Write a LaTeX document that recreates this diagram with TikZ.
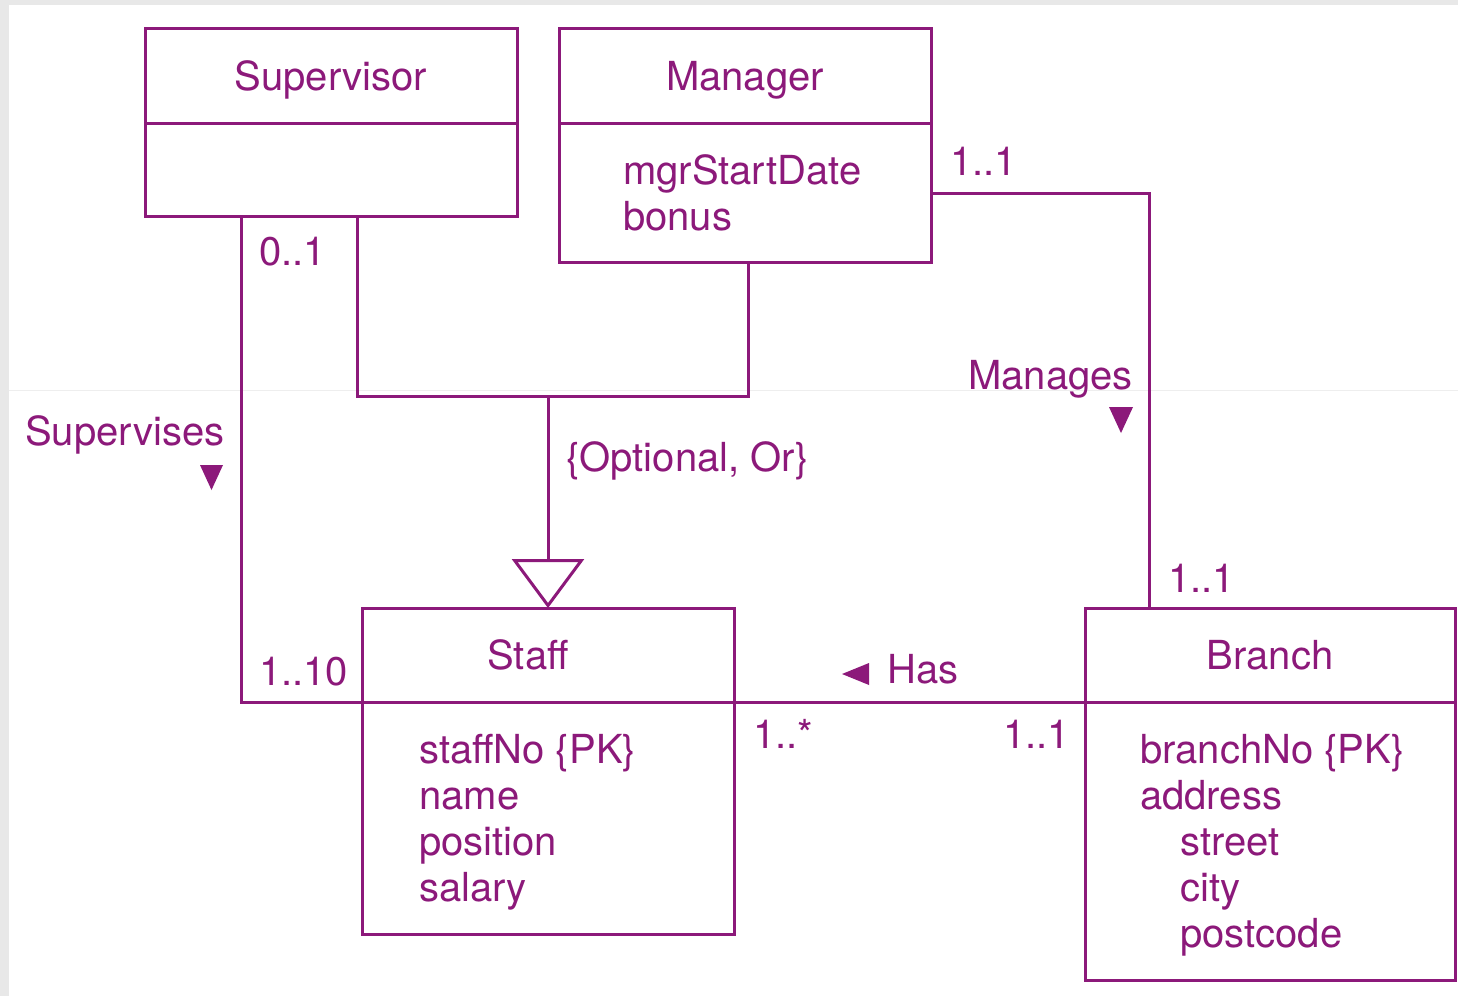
\documentclass[tikz,border=0pt]{standalone}
\usepackage{fontspec}
\setmainfont{TeX Gyre Heros}
\usetikzlibrary{arrows.meta}

\definecolor{umlpurple}{RGB}{140,25,122}
\definecolor{framegray}{RGB}{232,232,232}
\definecolor{rulegray}{RGB}{238,238,238}

\tikzset{
  umltext/.style={text=umlpurple, font=\fontsize{40}{46}\selectfont},
  uml/.style={draw=umlpurple, line width=3pt, inner sep=0pt, outer sep=0pt, anchor=north west},
  head/.style={uml, umltext, text height=29pt, text depth=0pt, align=center},
  title/.style={umltext, inner sep=0pt, text height=29pt, text depth=0pt},
  attr/.style={umltext, inner sep=0pt, anchor=base west},
  lbl/.style={umltext, inner sep=0pt, anchor=base west},
  conn/.style={draw=umlpurple, line width=3pt},
  dirmark/.style={fill=umlpurple},
}

\begin{document}
\begin{tikzpicture}[x=1pt,y=-1pt]
\useasboundingbox (0,0) rectangle (1458,996);
\fill[framegray] (0,0) rectangle (1458,996);
\fill[white] (9,5) rectangle (1458,996);
\draw[rulegray, line width=1pt] (9,390) -- (1458,390);

% classes: name compartment + attribute compartment
\node[head, minimum width=372pt, minimum height=95pt] (sup-head) at (145,28) {Supervisor};
\node[uml, minimum width=372pt, minimum height=93pt] (sup-body) at (sup-head.south west) {};

\node[head, minimum width=372pt, minimum height=95pt] (mgr-head) at (559,28) {Manager};
\node[uml, minimum width=372pt, minimum height=139pt] (mgr-body) at (mgr-head.south west) {};

\node[head, minimum width=372pt, minimum height=94pt] (staff-head) at (362,608) {};
\node[title] (staff-title) at ([xshift=-20pt]staff-head.center) {Staff};
\node[uml, minimum width=372pt, minimum height=232pt] (staff-body) at (staff-head.south west) {};

\node[head, minimum width=370pt, minimum height=94pt] (branch-head) at (1085,608) {Branch};
\node[uml, minimum width=370pt, minimum height=278pt] (branch-body) at (branch-head.south west) {};

% attributes
\node[attr] (mgr-a1) at (623,184) {mgrStartDate};
\node[attr] (mgr-a2) at (623,230) {bonus};

\node[attr] (staff-a1) at (419,763) {staffNo \{PK\}};
\node[attr] (staff-a2) at (419,809) {name};
\node[attr] (staff-a3) at (419,855) {position};
\node[attr] (staff-a4) at (419,901) {salary};

\node[attr] (branch-a1) at (1140,763) {branchNo \{PK\}};
\node[attr] (branch-a2) at (1140,809) {address};
\node[attr] (branch-a3) at (1180,855) {street};
\node[attr] (branch-a4) at (1180,901) {city};
\node[attr] (branch-a5) at (1180,947) {postcode};

% associations
\draw[conn] ([xshift=96pt]sup-body.south west) |- (staff-head.south west);
\draw[conn] ([yshift=-70pt]mgr-body.north east) -| ([xshift=64pt]branch-head.north west);
\draw[conn] (staff-head.south east) -- (branch-head.south west);

% generalization
\draw[conn] ([xshift=212pt]sup-body.south west) -- ++(0,180) coordinate (gen-left)
  -| ([xshift=189pt]mgr-body.south west);
\draw[conn, -{Triangle[open, length=49pt, width=72pt]}] (staff-head.north |- gen-left) -- (staff-head.north);

% multiplicities
\node[lbl] (m-sup) at (259,265) {0..1};
\node[lbl] (m-mgr) at (950,175) {1..1};
\node[lbl] (m-br-top) at (1168,592) {1..1};
\node[lbl] (m-staff-sup) at (259,685) {1..10};
\node[lbl] (m-staff-has) at (753,748) {1..*};
\node[lbl] (m-br-has) at (1003,748) {1..1};

% association names and constraint
\node[lbl] (supervises) at (25,445) {Supervises};
\node[lbl] (manages) at (968,389) {Manages};
\node[lbl] (has) at (887,683) {Has};
\node[lbl] (constraint) at (566,471) {\{Optional, Or\}};

% reading-direction marks
\fill[dirmark] (200,465) -- (223,465) -- (211.5,490) -- cycle;
\fill[dirmark] (1109,407) -- (1133,407) -- (1121,433) -- cycle;
\fill[dirmark] (869,663) -- (869,685) -- (842,674) -- cycle;
\end{tikzpicture}
\end{document}
